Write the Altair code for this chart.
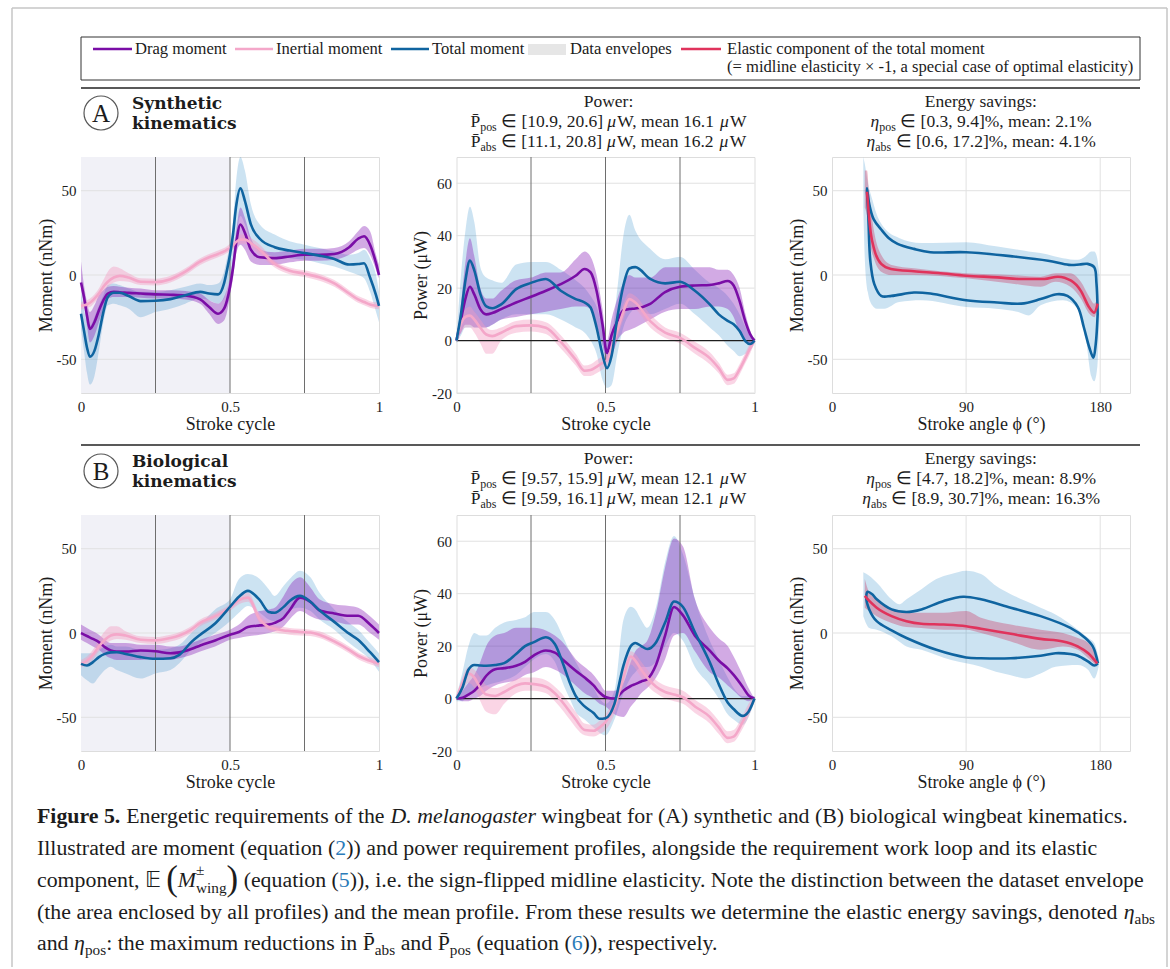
import altair as alt
import pandas as pd

# ====================== values ======================
# ---- Panel A, moment vs stroke cycle (synthetic kinematics)
tA = [0, 0.01, 0.02, 0.03, 0.045, 0.06, 0.075, 0.09, 0.11, 0.13, 0.16, 0.2, 0.25, 0.3, 0.35, 0.4, 0.43, 0.46, 0.48, 0.49,
      0.5, 0.51, 0.52, 0.535, 0.55, 0.57, 0.6, 0.65, 0.7, 0.75, 0.8, 0.85, 0.9, 0.93, 0.95, 0.97, 0.99, 1.0]
A_drag = [-4.4, -13, -24, -32, -28, -21, -15, -11, -10, -10.2, -10.6, -11, -11.5, -11.7, -12.2, -14.5, -19, -23, -20, -15,
          -7, 4, 18, 30, 25, 15, 10.5, 10, 11, 12, 12, 12.5, 16.5, 21.5, 23, 18, 7, 0]
A_drag_lo = [-9, -18, -30, -40, -36, -28, -20, -14, -13, -13, -13, -13.5, -14, -14, -14.5, -17, -23, -29, -27, -22,
             -12, -2, 12, 18, 15, 8, 6, 6, 7.5, 8.5, 8.5, 9, 12, 15, 16, 12, 3, -2]
A_drag_hi = [8, -6, -16, -22, -18, -12, -9, -7, -6.5, -7, -7.5, -8, -9, -9, -9.5, -11, -15, -17, -13, -8,
             -1, 10, 25, 40, 34, 22, 15, 13.5, 14.5, 15.5, 15.5, 16, 20, 26, 29, 26, 12, 6]
A_tot = [-23, -33, -43, -48.5, -45, -35, -22, -13, -10.5, -10.5, -12.5, -15.5, -15.3, -14.3, -12, -10, -11, -11.5, -5, 3,
         12, 24, 40, 51.4, 44, 30, 21.5, 16.5, 14.5, 13, 11.5, 9.5, 6.2, 6.5, 7, -1.5, -12, -18.3]
A_tot_lo = [-32, -45, -58, -65, -60, -45, -28, -18, -17, -18, -20, -25, -22, -20, -17, -14, -15, -17, -14, -8,
            -2, 5, 20, 35, 30, 20, 14, 11, 10, 9, 7, 5, 2, 0, -2, -10, -22, -28]
A_tot_hi = [-10, -20, -28, -30, -25, -18, -12, -6, -5, -6, -8, -10, -10, -9, -7, -5, -6, -5, 2, 10,
            18, 32, 55, 70, 62, 42, 30, 24, 20, 18, 16, 14, 12, 13, 15, 10, 0, -10]
A_iner = [-18.3, -18, -17.5, -16.5, -14, -11, -7, -4, -1.5, -0.5, -1.5, -4, -4.2, -2.5, 2, 8, 10.5, 12.5, 14, 15,
          16, 17.5, 19.5, 21, 21, 19, 15, 6.5, 2.5, 0.8, -1.4, -5, -11, -14.5, -16, -17.5, -18.2, -18.3]
A_iner_lo = [-20.5, -20, -19.5, -19, -16.5, -13.5, -9.5, -7, -4.5, -3.5, -4, -6, -6.2, -4.5, 0, 6, 8.5, 10.5, 12, 13,
             14, 15, 17, 18.5, 18.5, 16.5, 12, 4.5, 0.5, -1.2, -3.4, -7, -13, -16.5, -18, -19.5, -20.2, -20.3]
A_iner_hi = [-16, -15.5, -15, -14, -11.5, -8, -3, 2, 5, 4, 1, -2, -2.2, -0.5, 4, 10, 12.5, 14.5, 16, 17,
             18.5, 20, 22, 24, 24, 22, 18, 8.5, 4.5, 2.8, 0.6, -3, -9, -12.5, -14, -15.5, -16.2, -16.3]

# ---- Panel A, power vs stroke cycle
tP = [0, 0.015, 0.03, 0.045, 0.06, 0.08, 0.1, 0.12, 0.15, 0.2, 0.25, 0.3, 0.35, 0.4, 0.43, 0.45, 0.47, 0.49, 0.505, 0.52,
      0.54, 0.56, 0.58, 0.6, 0.65, 0.7, 0.75, 0.8, 0.85, 0.88, 0.91, 0.93, 0.95, 0.97, 0.985, 1.0]
AP_drag = [0, 8, 16, 20.5, 17.5, 12, 10, 10.5, 12, 14.5, 16.7, 19, 21.5, 24.7, 27.3, 26, 19, 6, -4.7, 2,
           7.5, 11.5, 12, 12.2, 14, 18.5, 20.5, 21, 21.2, 21.8, 22.7, 21, 15, 7, 2.5, 0]
AP_drag_lo = [0, 3, 6, 6, 5, 5, 5, 6, 8, 9, 10, 11, 12, 13, 13, 12, 6, -2, -8, -6,
              0, 3, 4, 5, 8, 11, 12, 12, 13, 13, 12, 9, 3, 0, -1, 0]
AP_drag_hi = [0, 14, 30, 39, 32, 20, 16, 16, 19, 23, 24, 26, 26, 31, 34, 32, 25, 12, 0, 8,
              16, 22, 25, 24, 24, 28, 28, 28, 28, 27, 27, 25, 20, 10, 4, 0]
AP_tot = [0, 10, 23, 30.5, 26.7, 17.7, 13, 12.3, 13.8, 19.6, 22, 23.5, 19, 15.8, 14.5, 12.6, 5, -5.4, -10.5, -6,
          9, 21, 27.5, 28, 23.5, 21.8, 22.4, 19, 13.8, 10, 7.5, 6.2, 3.6, -0.3, -1.3, 0]
AP_tot_lo = [-1, 2, 5, 5, 5, 5, 5, 6, 8, 10, 10, 10, 8, 5, 3, 0, -5, -15, -18, -17,
             -5, 5, 10, 12, 10, 12, 14, 10, 5, 2, -2, -4, -6, -5, -4, -1]
AP_tot_hi = [1, 25, 42, 51, 45, 28, 24, 23, 22, 29, 30, 30, 27, 23, 20, 17, 13, 5, 0, 2,
             20, 40, 48, 42, 35, 31, 32, 27, 22, 20, 17, 14, 10, 5, 2, 1]
AP_iner = [0, 6.5, 9, 9.5, 8, 4.9, 2.3, 1.7, 3, 5.5, 5.8, 4.9, -0.5, -7.3, -11.5, -11.2, -10, -8.5, -7.5, -3,
           4, 11, 15.8, 14.5, 7.4, 3, 1, -2.8, -6.7, -10.5, -15, -14.4, -11, -6.5, -3, 0]
AP_iner_lo = [0, 3, 5, 5, 3, -1, -5, -5, 0, 3, 3.5, 2.5, -3, -9.5, -13.5, -13.5, -12.5, -11, -10, -6,
              1, 8, 13, 12, 5, 1, -1, -5, -9, -12.5, -17, -16.5, -13, -8.5, -5, -1]
AP_iner_hi = [0, 9, 12, 13, 11, 8, 5, 4, 5, 7.5, 8, 7, 2, -5, -9.5, -9, -7.5, -6, -5, 0,
              7, 14, 18, 17, 10, 5, 3, -0.5, -4.5, -8.5, -13, -12.5, -9, -4.5, -1, 1]

# ---- Panel A, work loop (moment vs stroke angle)
A_loop_phi = [178.3, 177, 175.4, 172.7, 169, 165, 158, 151, 140, 127, 111, 90, 66, 55, 40, 33, 28.4, 25.7, 24.4, 23.5,
              25, 28, 33, 38, 44, 55, 66, 90, 122, 145, 159, 166, 171.6, 176, 177.5, 178.3]
A_loop_m = [-23, -41, -49, -43, -31, -19, -12.4, -11.4, -14.3, -17, -16.3, -15, -11, -10.4, -12.4, -12.4, -5.4, 8.6, 34.5, 51.4,
            42, 33, 27, 22, 18.5, 15.5, 13.5, 13.5, 11, 8.5, 6, 6.2, 6.6, 4.6, -5, -23]
A_env_phi = [21, 22, 24, 27, 30, 35, 45, 60, 90, 110, 125, 132, 140, 155, 165, 170, 174, 176, 178, 179.5]
A_env_lo = [40, 10, -10, -18, -20, -20, -16, -15, -19, -20, -22, -24, -18, -15, -20, -35, -60, -63, -55, -25]
A_env_hi = [70, 66, 55, 45, 36, 28, 22, 19, 19.5, 17, 15, 14, 13, 10, 9, 11, 14, 14, 10, 0]
A_el_phi = [23.5, 24.5, 26, 28.4, 33, 39.6, 55, 71, 90, 111, 127, 142.6, 151.6, 160.5, 167, 172.7, 176, 178.3]
A_el_m = [49.4, 38, 25, 15, 6.6, 3.6, 2.2, 1.2, -0.4, -1.4, -2.4, -2.4, -1, -3.4, -9.4, -19.3, -22.3, -17]
A_elb_phi = [22, 23.5, 25, 28.4, 33, 40, 55, 90, 120, 140, 150, 160, 167, 172.7, 176, 178.3]
A_elb_lo = [40, 35, 22, 9, 2, 0, 0, -2, -5, -7, -4, -7, -14, -23, -25, -19]
A_elb_hi = [62, 62, 48, 25, 12, 6, 4, 1, 0, -1, 1, 1, -4, -13, -17, -14]

# ---- Panel B, moment vs stroke cycle (biological kinematics)
tB = [0, 0.02, 0.04, 0.06, 0.08, 0.1, 0.12, 0.15, 0.2, 0.25, 0.3, 0.33, 0.37, 0.4, 0.45, 0.5, 0.53, 0.56, 0.6, 0.63,
      0.65, 0.68, 0.7, 0.735, 0.77, 0.8, 0.85, 0.9, 0.93, 0.97, 1.0]
B_drag = [0, -1.8, -3.5, -5.4, -8.4, -10.4, -11, -11, -10.4, -10.8, -12, -11.5, -9.5, -7.4, -4.4, -1, 0.6, 3.5, 4.5, 5,
          6, 9, 13.5, 21, 18.5, 13.5, 11.6, 10.2, 10.2, 5, 0]
B_drag_lo = [-4, -6, -8, -10, -13, -15, -16, -16, -16, -15, -16, -15, -13, -11, -8, -4, -3, -2, -1, 0,
             1, 4, 8, 13, 10, 8, 7, 5, 5, 0, -4]
B_drag_hi = [5, 3, 1, -1, -4, -6, -6, -6, -7, -7, -8, -8, -6, -4, -1, 2, 5, 10, 13, 14,
             15, 22, 28, 33, 27, 20, 17, 16, 15, 10, 5]
B_tot = [-18.3, -19.3, -17.3, -14.3, -12.4, -11.5, -11.4, -12.4, -14.3, -15.3, -15, -13, -5.4, -1, 5.6, 15.5, 21.5, 25, 19.5, 12.5,
         12, 15.5, 19, 22, 18.5, 13.5, 6.6, -0.4, -4, -11.4, -17.3]
B_tot_lo = [-25, -28, -30, -26, -22, -20, -22, -24, -27, -24, -22, -18, -10, -6, 0, 7, 12, 16, 12, 8,
            7, 10, 14, 15, 13, 8, 2, -6, -10, -16, -23]
B_tot_hi = [-12, -12, -12, -10, -8, -7, -8, -8, -10, -10, -9, -7, 0, 5, 14, 20, 32, 35, 32, 26,
            22, 28, 32, 37, 33, 24, 14, 6, 2, -6, -12]
B_iner = [-18.3, -16.5, -13, -8, -4, -1.5, -0.8, -1.5, -4, -4.4, -3, -1.5, 2, 6, 10, 15, 19.5, 21, 8, 3.5,
          2.5, 1.5, 1.2, 0.6, 0.3, -1, -5, -10, -13.5, -16.5, -18.3]
B_iner_lo = [-20.5, -19, -16, -11, -7, -4.5, -3.5, -4, -6, -6.5, -5, -3.5, 0, 4, 8, 13, 17, 18.5, 5.5, 1.5,
             0.5, -0.5, -1, -1.5, -1.8, -3, -7, -12, -15.5, -18.5, -20.3]
B_iner_hi = [-16, -14, -10, -4, 1, 4, 4, 1, -2, -2.4, -1, 0.5, 4, 8, 12, 17, 22, 24, 11, 6,
             4.5, 3.5, 3, 2.5, 2, 1, -3, -8, -11.5, -14.5, -16.3]

# ---- Panel B, power vs stroke cycle
tQ = [0, 0.02, 0.04, 0.06, 0.08, 0.1, 0.13, 0.16, 0.2, 0.23, 0.26, 0.3, 0.33, 0.36, 0.38, 0.4, 0.43, 0.46, 0.48, 0.5,
      0.53, 0.56, 0.585, 0.6, 0.62, 0.64, 0.67, 0.7, 0.73, 0.76, 0.8, 0.85, 0.88, 0.91, 0.93, 0.96, 0.98, 1.0]
BP_drag = [0, 0.3, 1.5, 3, 5.5, 8.7, 11.2, 11.6, 12.5, 14, 16.5, 18.3, 17.5, 14.5, 12.5, 10.6, 8, 5, 2.3, 0.6,
           0, 3, 4.8, 5.5, 6.5, 7.4, 13, 24, 34.9, 31.7, 24, 18.3, 14.5, 11.5, 9, 4.5, 1.2, 0]
BP_drag_lo = [0, -1, -1, 0, 1, 3, 5, 6, 7, 9, 10, 12, 11, 9, 7, 5, 2, 0, -2, -3,
              -6, -7, -3, -1, 2, 4, 8, 15, 24, 25, 18, 10, 8, 5, 3, 0, -1, 0]
BP_drag_hi = [0, 3, 6, 9, 14, 20, 24, 25, 27, 27, 27, 26, 24, 21, 18, 15, 12, 9, 6, 3,
              3, 6, 14, 18, 20, 22, 33, 50, 61, 58, 38, 27, 23, 20, 16, 9, 4, 0]
BP_tot = [0, 4.2, 11, 12.8, 12.6, 12.5, 12.8, 13.5, 17, 20, 21.5, 23.4, 20.8, 12.5, 6.1, 1, -3, -5.5, -7.7, -7.5,
          -2, 12.5, 20, 21.2, 20, 18.9, 21.5, 29, 37, 34.9, 25.3, 13.8, 5.5, -1.5, -4, -6.6, -5, 0]
BP_tot_lo = [-1, -1, 2, 3, 4, 5, 6, 7, 9, 12, 15, 17, 14, 5, 0, -5, -8, -11, -13, -14,
             -8, 2, 8, 10, 12, 12, 14, 20, 25, 22, 12, 5, 0, -6, -8, -10, -7, -1]
BP_tot_hi = [1, 10, 20, 25, 24, 24, 27, 29, 30, 31, 33, 33, 30, 23, 18, 14, 8, 4, 0, -2,
             3, 30, 35, 34, 30, 27, 35, 52, 62, 55, 38, 22, 15, 8, 4, 1, 1, 1]
BP_iner = [0, 6, 9.5, 8, 4, 1.5, 1, 2.5, 5, 5.8, 5.5, 4.5, 2, -2, -5, -8, -12, -12.3, -11, -9,
           -3, 8, 16, 14.5, 11, 8, 4.5, 2.5, 1.5, 0.5, -3, -7, -11, -15, -14.5, -9, -4.5, 0]
BP_iner_lo = [0, 3, 6, 4, -1, -5, -6, -2, 2, 3, 3, 2, -1, -5, -8, -11, -14, -14.5, -13.5, -12,
              -6, 5, 13, 11.5, 8, 5, 2, 0, -1, -2, -5.5, -9.5, -13.5, -17, -16.5, -11.5, -7, -1]
BP_iner_hi = [0, 8, 12, 11, 8, 5, 4, 5, 7.5, 8, 8, 7, 4.5, 1, -2, -5, -9.5, -10, -8.5, -6,
              0, 11, 18, 17, 14, 11, 7, 5, 4, 3, -0.5, -4.5, -8.5, -12.5, -12, -6.5, -2, 1]

# ---- Panel B, work loop
B_loop_phi = [178.5, 176, 172, 165, 160, 150, 140, 120, 100, 90, 70, 50, 40, 30, 25, 23, 24, 27, 30, 40,
              50, 60, 75, 88, 100, 120, 140, 160, 170, 175, 178.5]
B_loop_m = [-18, -19.3, -17, -13.5, -12.5, -12, -13.5, -15, -15, -14.5, -10, -3, 1.5, 7, 14, 21, 24.5, 23, 20, 14,
            12.5, 14, 19, 21.5, 20, 15, 10, 3, -3, -8, -18]
B_env_phi = [21, 25, 30, 40, 45, 50, 60, 70, 80, 90, 100, 110, 120, 130, 140, 150, 165, 172, 176, 179]
B_env_lo = [10, 3, 2, -2, -5, -8, -10, -13, -16, -18, -20, -23, -25, -27, -24, -20, -19, -22, -27, -20]
B_env_hi = [36, 34, 30, 20, 17, 20, 26, 32, 35, 37, 35, 28, 23, 19, 15, 11, 2, -3, -6, -15]
B_el_phi = [22, 25, 30, 40, 50, 60, 75, 90, 100, 120, 140, 155, 165, 172, 178]
B_el_m = [22, 19, 15, 10, 7, 5.5, 5, 4, 2.5, -0.5, -3.5, -5, -8, -12, -18]
B_el_lo = [15, 13, 10, 6, 3.5, 3, 2, 2, 0, -5, -10, -8, -10, -15, -20]
B_el_hi = [32, 24, 20, 14, 12, 12, 12, 13, 9, 5, 2, 0, -3, -6, -15]

# ---- axes, reference lines
STROKE_TICKS = [0, 0.5, 1]
ANGLE_TICKS = [0, 90, 180]
MOMENT_TICKS = [-50, 0, 50]
POWER_TICKS = [-20, 0, 20, 40, 60]
PHASE_LINES = [0.25, 0.5, 0.75]
SHADE = [0, 0.5]
ANGLE_GRID = [90, 180]

# ---- texts
LEGEND_LABELS = ["Drag moment", "Inertial moment", "Total moment", "Data envelopes",
                 "Elastic component of the total moment",
                 "(= midline elasticity \u00d7 -1, a special case of optimal elasticity)"]
A_POWER = [("pos", "10.9, 20.6", "16.1"), ("abs", "11.1, 20.8", "16.2")]
A_SAVE = [("pos", "0.3, 9.4", "2.1"), ("abs", "0.6, 17.2", "4.1")]
B_POWER = [("pos", "9.57, 15.9", "12.1"), ("abs", "9.59, 16.1", "12.1")]
B_SAVE = [("pos", "4.7, 18.2", "8.9"), ("abs", "8.9, 30.7", "16.3")]

# ====================== styling ======================
SERIF = "Liberation Serif"
BOLDSERIF = "DejaVu Serif"
INK = "#1c1c1c"
PURPLE = "#7A0DA6"
PINK = "#F4A7C9"
BLUE = "#0F64A0"
RED = "#E0335C"
ENV_BLUE = "#0072BD"
ENV_PURPLE = "#8A1FB8"
ENV_PINK = "#F29CC2"
ENV_RED = "#C8325E"
LINK = "#2B7BB9"
TSIZE = 17.5

PW, PH = 298, 236
OX, OY = 80, 156     # page position of the first plot area (annotations are placed relative to it)

# Times-compatible advance widths (1/1000 em) for laying out mixed-style text runs
W_REG = dict(zip(" !\"#$%&'()*+,-./0123456789:;<=>?@",
                 [250, 333, 408, 500, 500, 833, 778, 180, 333, 333, 500, 564, 250, 333, 250, 278] + [500] * 10 +
                 [278, 278, 564, 564, 564, 444, 921]))
W_REG.update(dict(zip("ABCDEFGHIJKLMNOPQRSTUVWXYZ",
                      [722, 667, 667, 722, 611, 556, 722, 722, 333, 389, 722, 611, 889, 722, 722, 556, 722, 667, 556,
                       611, 722, 722, 944, 722, 722, 611])))
W_REG.update(dict(zip("abcdefghijklmnopqrstuvwxyz",
                      [444, 500, 444, 500, 444, 333, 500, 500, 278, 278, 500, 278, 778, 500, 500, 500, 500, 333, 389,
                       278, 500, 500, 722, 500, 500, 444])))
W_REG.update({"[": 333, "]": 333, "\u03bc": 576, "\u03b7": 500, "\u2208": 900, "\u00d7": 564, "\u00b1": 564,
              "\u03d5": 600, "\u00b0": 400, "\U0001D53C": 722, "\u0304": 0})
W_BOLD = {"F": 611, "i": 278, "g": 500, "u": 556, "r": 444, "e": 444, " ": 250, "5": 500, ".": 250}
W_ITAL = {"D": 722, "M": 833, "m": 722, "e": 444, "l": 278, "a": 500, "n": 500, "o": 500, "g": 500, "s": 389,
          "t": 278, "r": 389, ".": 250, " ": 250}

ONE = pd.DataFrame({"k": [0]})


def em(s, weight="normal", style="normal"):
    tot = 0
    for ch in s:
        if weight == "bold" and ch in W_BOLD:
            tot += W_BOLD[ch]
        elif style == "italic" and ch in W_ITAL:
            tot += W_ITAL[ch]
        else:
            tot += W_REG.get(ch, 600)
    return tot / 1000.0


def txt(s, x, y, size, font=SERIF, weight="normal", style="normal", align="left", color=INK):
    return alt.Chart(ONE).mark_text(text=s, font=font, fontSize=size, fontWeight=weight,
                                    fontStyle=style, align=align, baseline="middle", color=color).encode(
        x=alt.value(x - OX), y=alt.value(y - OY))


def seg(t, w="normal", s="normal", c=INK, k=1.0, dy=0.0, adv=True):
    return dict(t=t, w=w, s=s, c=c, k=k, dy=dy, adv=adv)


def flow(segs, x, y, size, align="left"):
    widths = [em(g["t"], g["w"], g["s"]) * size * g["k"] if g["adv"] else 0 for g in segs]
    if align == "center":
        x -= sum(widths) / 2.0
    out = []
    for g, w in zip(segs, widths):
        s = size * g["k"]
        lead = len(g["t"]) - len(g["t"].lstrip(" "))     # leading blanks are trimmed by the renderer
        body = g["t"].strip(" ")
        if body:
            out.append(txt(body, x + em(" " * lead) * s, y + g["dy"] * size, s,
                           weight=g["w"], style=g["s"], color=g["c"]))
        x += w
    return out


def hrule(x1, x2, y, color, width):
    return alt.Chart(ONE).mark_rule(color=color, strokeWidth=width).encode(
        x=alt.value(x1 - OX), x2=alt.value(x2 - OX), y=alt.value(y - OY))


def vrule(x, y1, y2, color, width):
    return alt.Chart(ONE).mark_rule(color=color, strokeWidth=width).encode(
        x=alt.value(x - OX), y=alt.value(y1 - OY), y2=alt.value(y2 - OY))


def axis(values, title, xaxis):
    return alt.Axis(values=values, title=title, labelExpr="'' + datum.value", labelFlush=False,
                    grid=False, ticks=False, domain=False, labelFont=SERIF, labelFontSize=15, labelColor=INK,
                    labelPadding=6 if xaxis else 5, titleFont=SERIF, titleFontSize=18, titleFontWeight="normal",
                    titleColor=INK, titlePadding=1)


def time_panel(t, drag, dlo, dhi, iner, ilo, ihi, tot, tlo, thi, ydom, yvals, ytitle, shade, zero):
    xs = alt.Scale(domain=[0, 1], nice=False, zero=False)
    ys = alt.Scale(domain=ydom, nice=False, zero=False)
    xa = axis(STROKE_TICKS, "Stroke cycle", True)
    ya = axis(yvals, ytitle, False)

    def X(f):
        return alt.X(f, type="quantitative", scale=xs, axis=xa)

    def Y(f):
        return alt.Y(f, type="quantitative", scale=ys, axis=ya)

    df = pd.DataFrame({"t": t, "drag": drag, "dlo": dlo, "dhi": dhi, "iner": iner, "ilo": ilo, "ihi": ihi,
                       "tot": tot, "tlo": tlo, "thi": thi})
    base = alt.Chart(df)
    layers = []
    if shade:
        layers.append(alt.Chart(pd.DataFrame({"a": [SHADE[0]], "b": [SHADE[1]]})).mark_rect(color="#F1F1F7").encode(
            x=X("a"), x2="b", y=alt.value(0), y2=alt.value(PH)))
    grid_vals = [v for v in yvals if not (zero and v == 0)]
    layers.append(alt.Chart(pd.DataFrame({"g": grid_vals})).mark_rule(color="#E1E1E1", strokeWidth=1).encode(y=Y("g")))
    layers += [
        base.mark_area(color=ENV_BLUE, opacity=0.2, interpolate="monotone").encode(x=X("t"), y=Y("tlo"), y2="thi"),
        base.mark_area(color=ENV_PURPLE, opacity=0.38, interpolate="monotone").encode(x=X("t"), y=Y("dlo"), y2="dhi"),
        base.mark_area(color=ENV_PINK, opacity=0.42, interpolate="monotone").encode(x=X("t"), y=Y("ilo"), y2="ihi"),
        alt.Chart(pd.DataFrame({"v": PHASE_LINES})).mark_rule(color="#6E6E6E", strokeWidth=1).encode(x=X("v")),
    ]
    if zero:
        layers.append(alt.Chart(pd.DataFrame({"z": [0]})).mark_rule(color="#1E1E1E", strokeWidth=1.2).encode(y=Y("z")))
    layers += [
        base.mark_line(color=PURPLE, strokeWidth=2.6, interpolate="monotone").encode(x=X("t"), y=Y("drag")),
        base.mark_line(color=PINK, strokeWidth=2.6, interpolate="monotone").encode(x=X("t"), y=Y("iner")),
        base.mark_line(color=BLUE, strokeWidth=2.6, interpolate="monotone").encode(x=X("t"), y=Y("tot")),
    ]
    return layers


def loop_panel(env_p, env_lo, env_hi, elb_p, elb_lo, elb_hi, loop_p, loop_m, el_p, el_m):
    xs = alt.Scale(domain=[0, 200], nice=False, zero=False)
    ys = alt.Scale(domain=[-70, 70], nice=False, zero=False)
    xa = axis(ANGLE_TICKS, "Stroke angle \u03d5 (\u00b0)", True)
    ya = axis(MOMENT_TICKS, "Moment (nNm)", False)

    def X(f):
        return alt.X(f, type="quantitative", scale=xs, axis=xa)

    def Y(f):
        return alt.Y(f, type="quantitative", scale=ys, axis=ya)

    return [
        alt.Chart(pd.DataFrame({"g": MOMENT_TICKS})).mark_rule(color="#E1E1E1", strokeWidth=1).encode(y=Y("g")),
        alt.Chart(pd.DataFrame({"g": ANGLE_GRID})).mark_rule(color="#E1E1E1", strokeWidth=1).encode(x=X("g")),
        alt.Chart(pd.DataFrame({"p": env_p, "lo": env_lo, "hi": env_hi})).mark_area(
            color=ENV_BLUE, opacity=0.2, interpolate="monotone").encode(x=X("p"), y=Y("lo"), y2="hi"),
        alt.Chart(pd.DataFrame({"p": elb_p, "lo": elb_lo, "hi": elb_hi})).mark_area(
            color=ENV_RED, opacity=0.35, interpolate="monotone").encode(x=X("p"), y=Y("lo"), y2="hi"),
        alt.Chart(pd.DataFrame({"i": list(range(len(loop_p))), "p": loop_p, "m": loop_m})).mark_line(
            color=BLUE, strokeWidth=2.6, interpolate="catmull-rom").encode(x=X("p"), y=Y("m"), order="i:Q"),
        alt.Chart(pd.DataFrame({"p": el_p, "m": el_m})).mark_line(
            color=RED, strokeWidth=2.6, interpolate="monotone").encode(x=X("p"), y=Y("m")),
    ]


# ====================== annotations (legend, headers, caption) ======================
ann = []
# page frame
ann += [vrule(11, 7, 966, "#C6C6C6", 1.5), vrule(1166, 7, 966, "#C6C6C6", 1.5), hrule(11, 1166, 7, "#C6C6C6", 1.5)]
# legend box
ann.append(alt.Chart(ONE).mark_rect(fill="white", fillOpacity=0, stroke="#333333", strokeWidth=1).encode(
    x=alt.value(80 - OX), x2=alt.value(1139 - OX), y=alt.value(36 - OY), y2=alt.value(79 - OY)))
LSIZE = 16.6
for (x1, x2, col), lab, tx in zip([(92, 131, PURPLE), (234, 272, PINK), (390, 428, BLUE)], LEGEND_LABELS[:3],
                                  [134, 275, 431]):
    ann.append(hrule(x1, x2, 48, col, 2.6))
    ann.append(txt(lab, tx, 48, LSIZE))
ann.append(alt.Chart(ONE).mark_rect(color="#E6E6E6").encode(
    x=alt.value(527 - OX), x2=alt.value(565 - OX), y=alt.value(43 - OY), y2=alt.value(54 - OY)))
ann.append(txt(LEGEND_LABELS[3], 569, 48, LSIZE))
ann.append(hrule(680, 720, 48, RED, 2.6))
ann.append(txt(LEGEND_LABELS[4], 726, 48, LSIZE))
ann.append(txt(LEGEND_LABELS[5], 726, 66, LSIZE))


def section(y_rule, y_mid, letter, word, power, save):
    out = [hrule(80, 1139, y_rule, "#222222", 1.5)]
    out.append(alt.Chart(ONE).mark_point(shape="circle", size=1156, filled=False, color="#111111",
                                         strokeWidth=1.2).encode(x=alt.value(100 - OX), y=alt.value(y_mid - OY)))
    out.append(txt(letter, 100, y_mid + 1, 25, align="center"))
    out.append(txt(word, 131, y_mid - 9, 17, font=BOLDSERIF, weight="bold"))
    out.append(txt("kinematics", 131, y_mid + 11, 17, font=BOLDSERIF, weight="bold"))
    ty = y_rule + 14
    out += flow([seg("Power:")], 607.5, ty, TSIZE, "center")
    for i, (sub, rng, mean) in enumerate(power):
        out += flow([seg("P\u0304"), seg(sub, k=0.68, dy=0.3), seg(" \u2208 [" + rng + "] "), seg("\u03bc", s="italic"),
                     seg("W, mean " + mean + " "), seg("\u03bc", s="italic"), seg("W")],
                    607.5, ty + 20 * (i + 1), TSIZE, "center")
    out += flow([seg("Energy savings:")], 980, ty, TSIZE, "center")
    for i, (sub, rng, mean) in enumerate(save):
        out += flow([seg("\u03b7", s="italic"), seg(sub, k=0.68, dy=0.3),
                     seg(" \u2208 [" + rng + "]%, mean: " + mean + "%")],
                    980, ty + 20 * (i + 1), TSIZE, "center")
    return out


ann += section(87, 112, "A", "Synthetic", A_POWER, A_SAVE)
ann += section(444, 470, "B", "Biological", B_POWER, B_SAVE)

# caption
L1 = [seg("Figure 5.", w="bold"), seg(" Energetic requirements of the "), seg("D. melanogaster", s="italic"),
      seg(" wingbeat for (A) synthetic and (B) biological wingbeat kinematics.")]
L2 = [seg("Illustrated are moment (equation ("), seg("2", c=LINK),
      seg(")) and power requirement profiles, alongside the requirement work loop and its elastic")]
L3 = [seg("component, "), seg("\U0001D53C"), seg(" "), seg("(", k=1.6), seg("M", s="italic"),
      seg("\u00b1", k=0.7, dy=-0.45, adv=False), seg("wing", k=0.7, dy=0.35), seg(")", k=1.6),
      seg(" (equation ("), seg("5", c=LINK),
      seg(")), i.e. the sign-flipped midline elasticity. Note the distinction between the dataset envelope")]
L4 = [seg("(the area enclosed by all profiles) and the mean profile. From these results we determine the elastic energy savings, denoted "),
      seg("\u03b7", s="italic"), seg("abs", k=0.7, dy=0.3)]
L5 = [seg("and "), seg("\u03b7", s="italic"), seg("pos", k=0.7, dy=0.3), seg(": the maximum reductions in "),
      seg("P\u0304"), seg("abs", k=0.7, dy=0.3), seg(" and "), seg("P\u0304"), seg("pos", k=0.7, dy=0.3),
      seg(" (equation ("), seg("6", c=LINK), seg(")), respectively.")]
CAP = 1091.0 / sum(em(g["t"], g["w"], g["s"]) for g in L1)
for line, yy in zip([L1, L2, L3, L4, L5], [815, 847, 879, 911, 942]):
    ann += flow(line, 36, yy, CAP)

# ====================== panels ======================
A1 = alt.layer(*time_panel(tA, A_drag, A_drag_lo, A_drag_hi, A_iner, A_iner_lo, A_iner_hi, A_tot, A_tot_lo, A_tot_hi,
                           [-70, 70], MOMENT_TICKS, "Moment (nNm)", True, False), *ann).properties(width=PW, height=PH)
A2 = alt.layer(*time_panel(tP, AP_drag, AP_drag_lo, AP_drag_hi, AP_iner, AP_iner_lo, AP_iner_hi, AP_tot, AP_tot_lo,
                           AP_tot_hi, [-20, 70], POWER_TICKS, "Power (\u03bcW)", False, True)).properties(width=PW, height=PH)
A3 = alt.layer(*loop_panel(A_env_phi, A_env_lo, A_env_hi, A_elb_phi, A_elb_lo, A_elb_hi, A_loop_phi, A_loop_m,
                           A_el_phi, A_el_m)).properties(width=PW, height=PH)
B1 = alt.layer(*time_panel(tB, B_drag, B_drag_lo, B_drag_hi, B_iner, B_iner_lo, B_iner_hi, B_tot, B_tot_lo, B_tot_hi,
                           [-70, 70], MOMENT_TICKS, "Moment (nNm)", True, False)).properties(width=PW, height=PH)
B2 = alt.layer(*time_panel(tQ, BP_drag, BP_drag_lo, BP_drag_hi, BP_iner, BP_iner_lo, BP_iner_hi, BP_tot, BP_tot_lo,
                           BP_tot_hi, [-20, 70], POWER_TICKS, "Power (\u03bcW)", False, True)).properties(width=PW, height=PH)
B3 = alt.layer(*loop_panel(B_env_phi, B_env_lo, B_env_hi, B_el_phi, B_el_lo, B_el_hi, B_loop_phi, B_loop_m,
                           B_el_phi, B_el_m)).properties(width=PW, height=PH)

chart = alt.concat(A1, A2, A3, B1, B2, B3, columns=3, spacing={"row": 122, "column": 77.5}, bounds="flush").properties(
    padding={"left": 10, "top": 6, "right": 0, "bottom": 0}, background="white"
).configure_view(stroke="#404040", strokeWidth=1).configure(font=SERIF)

chart.save("out.html", embed_options={"renderer": "svg", "actions": False})
